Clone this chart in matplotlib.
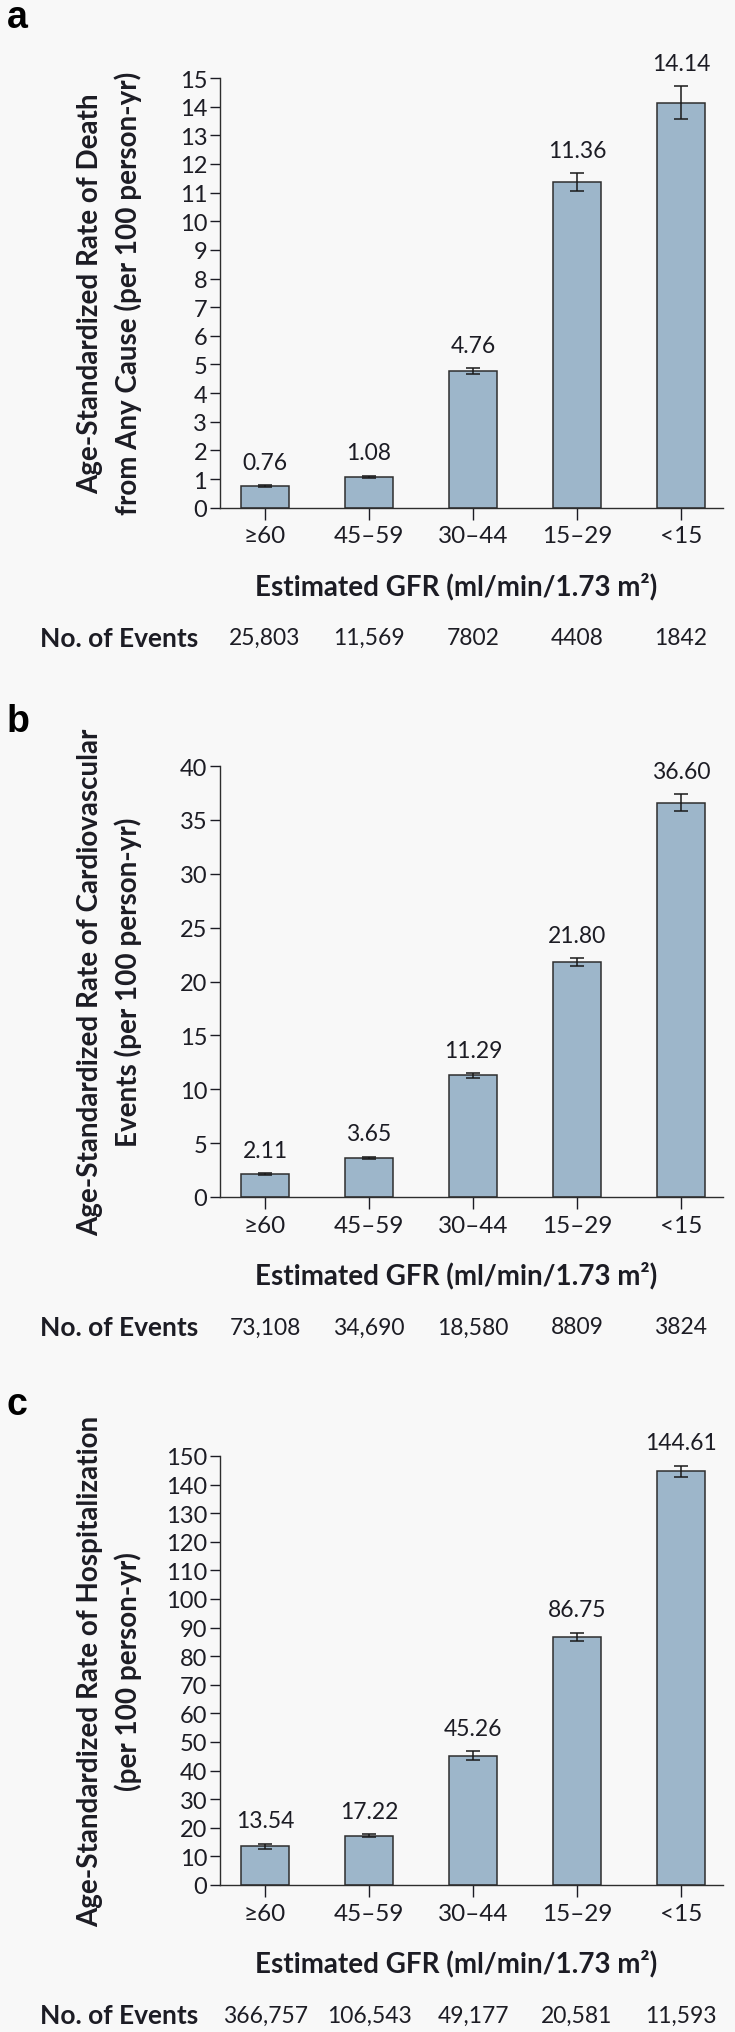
import numpy as np
import matplotlib
matplotlib.use("Agg")
import matplotlib.pyplot as plt

plt.rcParams['font.family'] = ['Lato', 'DejaVu Sans']

# ---- data ----
categories = ['≥60', '45–59', '30–44', '15–29', '<15']

death_rate = [0.76, 1.08, 4.76, 11.36, 14.14]
death_err = [0.03, 0.03, 0.10, 0.32, 0.57]
death_events = ['25,803', '11,569', '7802', '4408', '1842']

cv_rate = [2.11, 3.65, 11.29, 21.80, 36.60]
cv_err = [0.10, 0.10, 0.20, 0.35, 0.80]
cv_events = ['73,108', '34,690', '18,580', '8809', '3824']

hosp_rate = [13.54, 17.22, 45.26, 86.75, 144.61]
hosp_err = [0.9, 0.5, 1.5, 1.5, 2.0]
hosp_events = ['366,757', '106,543', '49,177', '20,581', '11,593']

death_ticks = np.arange(0, 16, 1)
cv_ticks = np.arange(0, 41, 5)
hosp_ticks = np.arange(0, 151, 10)

W, H = 735, 2033
bg = '#f8f8f8'
bar_color = '#9db6ca'
ink = '#1c1c24'
PX = 72 / 100  # points per pixel at dpi 100

fig = plt.figure(figsize=(W / 100, H / 100), dpi=100, facecolor=bg)


def px_axes(top, bottom, left=220, right=723):
    return fig.add_axes([left / W, 1 - bottom / H, (right - left) / W, (bottom - top) / H])


def draw_panel(ax, rates, errs, events, ticks, ylab, letter, letter_y):
    x = np.arange(len(categories))
    ax.set_facecolor('none')
    ax.bar(x, rates, width=0.46, color=bar_color, edgecolor='#2e2e2e', linewidth=1.1, zorder=2)
    ax.errorbar(x, rates, yerr=errs, fmt='none', ecolor='#1a1a1a', elinewidth=1.1,
                capsize=4.8, capthick=1.1, zorder=3)
    ax.set_xlim(-0.433, 4.404)
    ax.set_ylim(0, ticks[-1])
    ax.set_yticks(ticks)
    ax.set_yticklabels([str(t) for t in ticks])
    ax.set_xticks(x)
    ax.set_xticklabels(categories)
    for s in ['top', 'right']:
        ax.spines[s].set_visible(False)
    for s in ['left', 'bottom']:
        ax.spines[s].set_linewidth(1.0)
        ax.spines[s].set_color('#2e2e2e')
    ax.tick_params(axis='y', direction='out', length=10 * PX, width=1.0, pad=2,
                   labelsize=17, colors=ink)
    ax.tick_params(axis='x', direction='out', length=12 * PX, width=1.0, pad=4,
                   labelsize=17.5, colors=ink)

    for xi, r, e in zip(x, rates, errs):
        ax.annotate('{:.2f}'.format(r), xy=(xi, r + e), xytext=(0, 23 * PX),
                    textcoords='offset points', ha='center', va='center',
                    fontsize=16.5, color=ink)

    ax.annotate('Estimated GFR (ml/min/1.73 m²)', xy=(0.469, 0), xycoords='axes fraction',
                xytext=(0, -78 * PX), textcoords='offset points', ha='center', va='center',
                fontsize=20, fontweight='bold', color=ink)

    ax.annotate('No. of Events', xy=(0, 0), xycoords='axes fraction',
                xytext=(-22 * PX, -130 * PX), textcoords='offset points',
                ha='right', va='center', fontsize=19, fontweight='bold', color=ink)
    for xi, ev in zip(x, events):
        ax.annotate(ev, xy=(xi, 0), xycoords=('data', 'axes fraction'),
                    xytext=(0, -130 * PX), textcoords='offset points',
                    ha='center', va='center', fontsize=16.5, color=ink)

    pos = ax.get_position()
    yc = pos.y0 + pos.height / 2
    fig.text(90 / W, yc, ylab[0], rotation=90, ha='center', va='center',
             fontsize=20, fontweight='bold', color=ink)
    fig.text(128 / W, yc, ylab[1], rotation=90, ha='center', va='center',
             fontsize=20, fontweight='bold', color=ink)

    fig.text(7 / W, 1 - letter_y / H, letter, ha='left', va='center', fontsize=27,
             fontweight='bold', family=['Liberation Sans', 'DejaVu Sans'], color='black')


ax_a = px_axes(79, 508.7)
draw_panel(ax_a, death_rate, death_err, death_events, death_ticks,
           ['Age-Standardized Rate of Death', 'from Any Cause (per 100 person-yr)'], 'a', 18)

ax_b = px_axes(767, 1198)
draw_panel(ax_b, cv_rate, cv_err, cv_events, cv_ticks,
           ['Age-Standardized Rate of Cardiovascular', 'Events (per 100 person-yr)'], 'b', 722)

ax_c = px_axes(1457, 1886)
draw_panel(ax_c, hosp_rate, hosp_err, hosp_events, hosp_ticks,
           ['Age-Standardized Rate of Hospitalization', '(per 100 person-yr)'], 'c', 1405)

fig.savefig('out.png', dpi=100, facecolor=bg)
